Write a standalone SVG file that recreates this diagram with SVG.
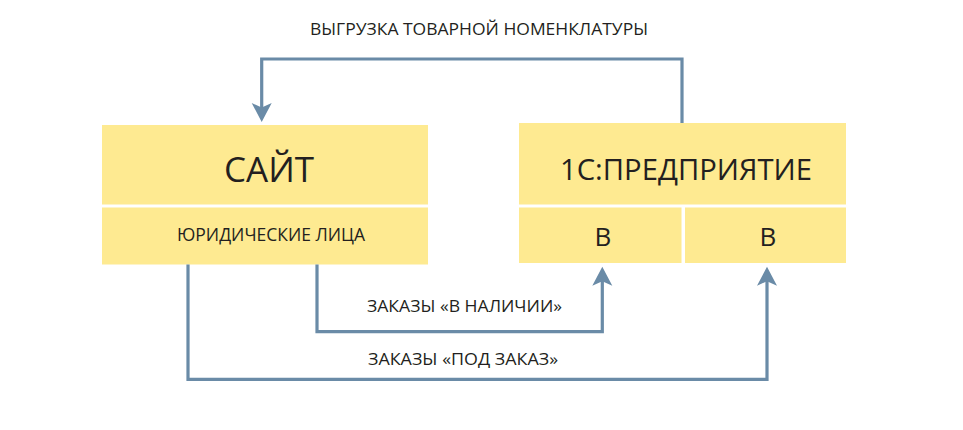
<svg xmlns="http://www.w3.org/2000/svg" width="963" height="430" viewBox="0 0 963 430">
<style>
.box{fill:#FEEA91}
.t{font-family:"Open Sans","Noto Sans","Liberation Sans",sans-serif;fill:#231F20;text-anchor:middle}
.c{fill:none;stroke:#6A8BA7;stroke-width:3.2}
</style>
<defs>
<marker id="ah" markerUnits="userSpaceOnUse" markerWidth="24" markerHeight="24" viewBox="-21 -12 24 24" refX="-10" refY="0" orient="auto">
<path d="M0,0 L-19,-10 L-14.5,0 L-19,10 Z" fill="#6A8BA7"/>
</marker>
</defs>
<rect width="963" height="430" fill="#FFFFFF"/>
<g id="node-site">
<rect class="box" x="102" y="125" width="326" height="79.5"/>
<rect class="box" x="102" y="207.5" width="326" height="57"/>
<text class="t" x="269" y="182" font-size="35">САЙТ</text>
<text class="t" x="271" y="241" font-size="17.5" textLength="188" lengthAdjust="spacingAndGlyphs">ЮРИДИЧЕСКИЕ ЛИЦА</text>
</g>
<g id="node-1c">
<rect class="box" x="519" y="123" width="327" height="81.5"/>
<rect class="box" x="519" y="207.5" width="162.5" height="55.5"/>
<rect class="box" x="685" y="207.5" width="161" height="55.5"/>
<text class="t" x="686" y="180" font-size="29" textLength="252" lengthAdjust="spacingAndGlyphs">1С:ПРЕДПРИЯТИЕ</text>
<text class="t" x="603" y="246" font-size="26">В</text>
<text class="t" x="768" y="246" font-size="26">В</text>
</g>
<g id="connectors">
<path class="c" d="M682,123 L682,59 L261.7,59 L261.7,112" marker-end="url(#ah)"/>
<path class="c" d="M317,264.5 L317,331.7 L602.3,331.7 L602.3,276.7" marker-end="url(#ah)"/>
<path class="c" d="M188,264.5 L188,379.3 L767,379.3 L767,276.7" marker-end="url(#ah)"/>
</g>
<g id="labels">
<text class="t" x="479" y="35" font-size="16.3" textLength="338" lengthAdjust="spacingAndGlyphs">ВЫГРУЗКА ТОВАРНОЙ НОМЕНКЛАТУРЫ</text>
<text class="t" x="464.5" y="312" font-size="16.3" textLength="195" lengthAdjust="spacingAndGlyphs">ЗАКАЗЫ «В НАЛИЧИИ»</text>
<text class="t" x="463" y="365" font-size="16.3" textLength="190" lengthAdjust="spacingAndGlyphs">ЗАКАЗЫ «ПОД ЗАКАЗ»</text>
</g>
</svg>
